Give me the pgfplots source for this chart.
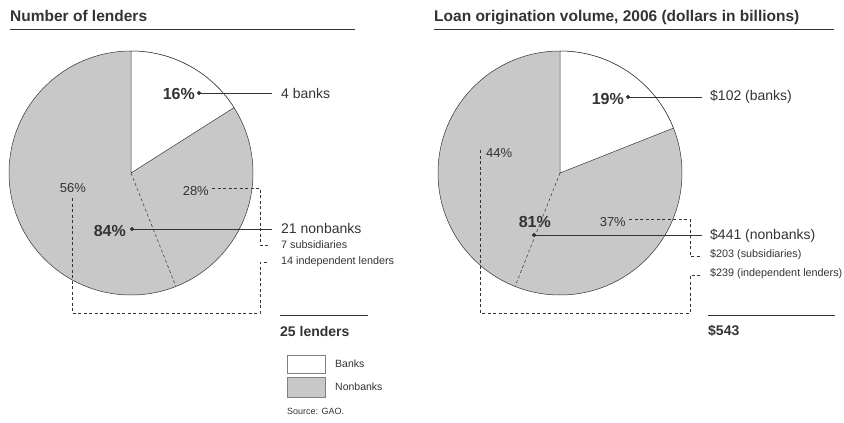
\documentclass[border=0pt]{standalone}
\usepackage{fontspec}
\setmainfont{Liberation Sans}
\usepackage{pgfplots}
\pgfplotsset{compat=1.18}
\definecolor{pie}{HTML}{C8C8C8}
\definecolor{ink}{HTML}{333333}
% shares (percent)
\def\Lbank{16}\def\Lsub{28}\def\Lind{56}
\def\Rbank{19}\def\Rsub{37}\def\Rind{44}
\pgfmathsetmacro\LaA{90-3.6*\Lbank}
\pgfmathsetmacro\LaB{\LaA-3.6*\Lsub}
\pgfmathsetmacro\RaA{90-3.6*\Rbank}
\pgfmathsetmacro\RaB{\RaA-3.6*\Rsub}
\newcommand\fs[1]{\fontsize{#1}{#1}\selectfont}
\tikzset{dsh/.style={ink,line width=0.5pt,dash pattern=on 3pt off 2.5pt}}
\begin{document}
\begin{tikzpicture}
\begin{axis}[width=844pt,height=423pt,scale only axis,
  xmin=0,xmax=844,ymin=0,ymax=423,y dir=reverse,hide axis,clip=false]
% ---------- titles
\node[anchor=base west,inner sep=0,text=ink,font=\fs{15.5}\bfseries] at (axis cs:10,21) {Number of lenders};
\node[anchor=base west,inner sep=0,text=ink,font=\fs{15.5}\bfseries] at (axis cs:434,21) {Loan origination volume, 2006 (dollars in billions)};
\addplot[ink,line width=0.6pt] coordinates {(10,29) (355,29)};
\addplot[ink,line width=0.6pt] coordinates {(434,29) (834,29)};
% ---------- left pie
\draw[ink,line width=0.5pt,fill=pie] (axis cs:131,173) circle[radius=122pt];
\draw[ink,line width=0.5pt,fill=white] (axis cs:131,173) -- ++(90:122pt) arc[start angle=90,end angle=\LaA,radius=122pt] -- cycle;
\draw[dsh] (axis cs:131,173) -- ++(\LaB:122pt);
% ---------- right pie
\draw[ink,line width=0.5pt,fill=pie] (axis cs:560,173) circle[radius=122pt];
\draw[ink,line width=0.5pt,fill=white] (axis cs:560,173) -- ++(90:122pt) arc[start angle=90,end angle=\RaA,radius=122pt] -- cycle;
\draw[dsh] (axis cs:560,173) -- ++(\RaB:122pt);
% ---------- left annotations
\node[anchor=east,inner sep=0,text=ink,font=\fs{16}\bfseries] at (axis cs:195,94) {16\%};
\node[anchor=east,inner sep=0,text=ink,font=\fs{16}\bfseries] at (axis cs:126,231) {84\%};
\node[anchor=east,inner sep=0,text=ink,font=\fs{13}] at (axis cs:209,191) {28\%};
\node[inner sep=0,text=ink,font=\fs{13}] at (axis cs:73,188) {56\%};
\addplot[ink,line width=0.6pt] coordinates {(199,93) (272,93)};
\addplot[ink,line width=0.6pt] coordinates {(132,229) (272,229)};
\addplot[ink,only marks,mark=*,mark size=1.8pt] coordinates {(199,93) (132,229)};
\addplot[dsh] coordinates {(212,188) (260,188) (260,245) (268,245)};
\addplot[dsh] coordinates {(72,198) (72,313) (260,313) (260,262) (268,262)};
\node[anchor=west,inner sep=0,text=ink,font=\fs{14}] at (axis cs:281,93) {4 banks};
\node[anchor=west,inner sep=0,text=ink,font=\fs{14}] at (axis cs:281,228) {21 nonbanks};
\node[anchor=west,inner sep=0,text=ink,font=\fs{10.8}] at (axis cs:281,245) {7 subsidiaries};
\node[anchor=west,inner sep=0,text=ink,font=\fs{10.8}] at (axis cs:281,262) {14 independent lenders};
\addplot[ink,line width=0.5pt] coordinates {(280,315) (368,315)};
\node[anchor=west,inner sep=0,text=ink,font=\fs{14}\bfseries] at (axis cs:280,331) {25 lenders};
% ---------- right annotations
\node[anchor=east,inner sep=0,text=ink,font=\fs{16}\bfseries] at (axis cs:624,99) {19\%};
\node[anchor=east,inner sep=0,text=ink,font=\fs{16}\bfseries] at (axis cs:551,222) {81\%};
\node[anchor=east,inner sep=0,text=ink,font=\fs{13}] at (axis cs:626,222) {37\%};
\node[anchor=west,inner sep=0,text=ink,font=\fs{13}] at (axis cs:486,153) {44\%};
\addplot[ink,line width=0.6pt] coordinates {(628,97) (702,97)};
\addplot[ink,line width=0.6pt] coordinates {(534,235) (702,235)};
\addplot[ink,only marks,mark=*,mark size=1.8pt] coordinates {(628,97) (534,235)};
\addplot[dsh] coordinates {(629,219) (690,219) (690,256) (700,256)};
\addplot[dsh] coordinates {(480,150) (480,313) (690,313) (690,275) (700,275)};
\node[anchor=west,inner sep=0,text=ink,font=\fs{14}] at (axis cs:710,97) {\$102 (banks)};
\node[anchor=west,inner sep=0,text=ink,font=\fs{14}] at (axis cs:710,236) {\$441 (nonbanks)};
\node[anchor=west,inner sep=0,text=ink,font=\fs{10.8}] at (axis cs:710,255) {\$203 (subsidiaries)};
\node[anchor=west,inner sep=0,text=ink,font=\fs{10.8}] at (axis cs:710,274) {\$239 (independent lenders)};
\addplot[ink,line width=0.5pt] coordinates {(708,315) (835,315)};
\node[anchor=west,inner sep=0,text=ink,font=\fs{14}\bfseries] at (axis cs:708,331) {\$543};
% ---------- legend
\addplot[gray,line width=0.4pt,fill=white] coordinates {(287,355) (325,355) (325,373) (287,373)} -- cycle;
\addplot[gray,line width=0.4pt,fill=pie] coordinates {(287,377) (325,377) (325,397) (287,397)} -- cycle;
\node[anchor=west,inner sep=0,text=ink,font=\fs{10.5}] at (axis cs:335,364) {Banks};
\node[anchor=west,inner sep=0,text=ink,font=\fs{10.5}] at (axis cs:335,387) {Nonbanks};
\node[anchor=west,inner sep=0,text=ink,font=\fs{9}] at (axis cs:287,411) {Source: GAO.};
\end{axis}
\pgfresetboundingbox
\path (current axis.south west) rectangle (current axis.north east);
\end{tikzpicture}
\end{document}
